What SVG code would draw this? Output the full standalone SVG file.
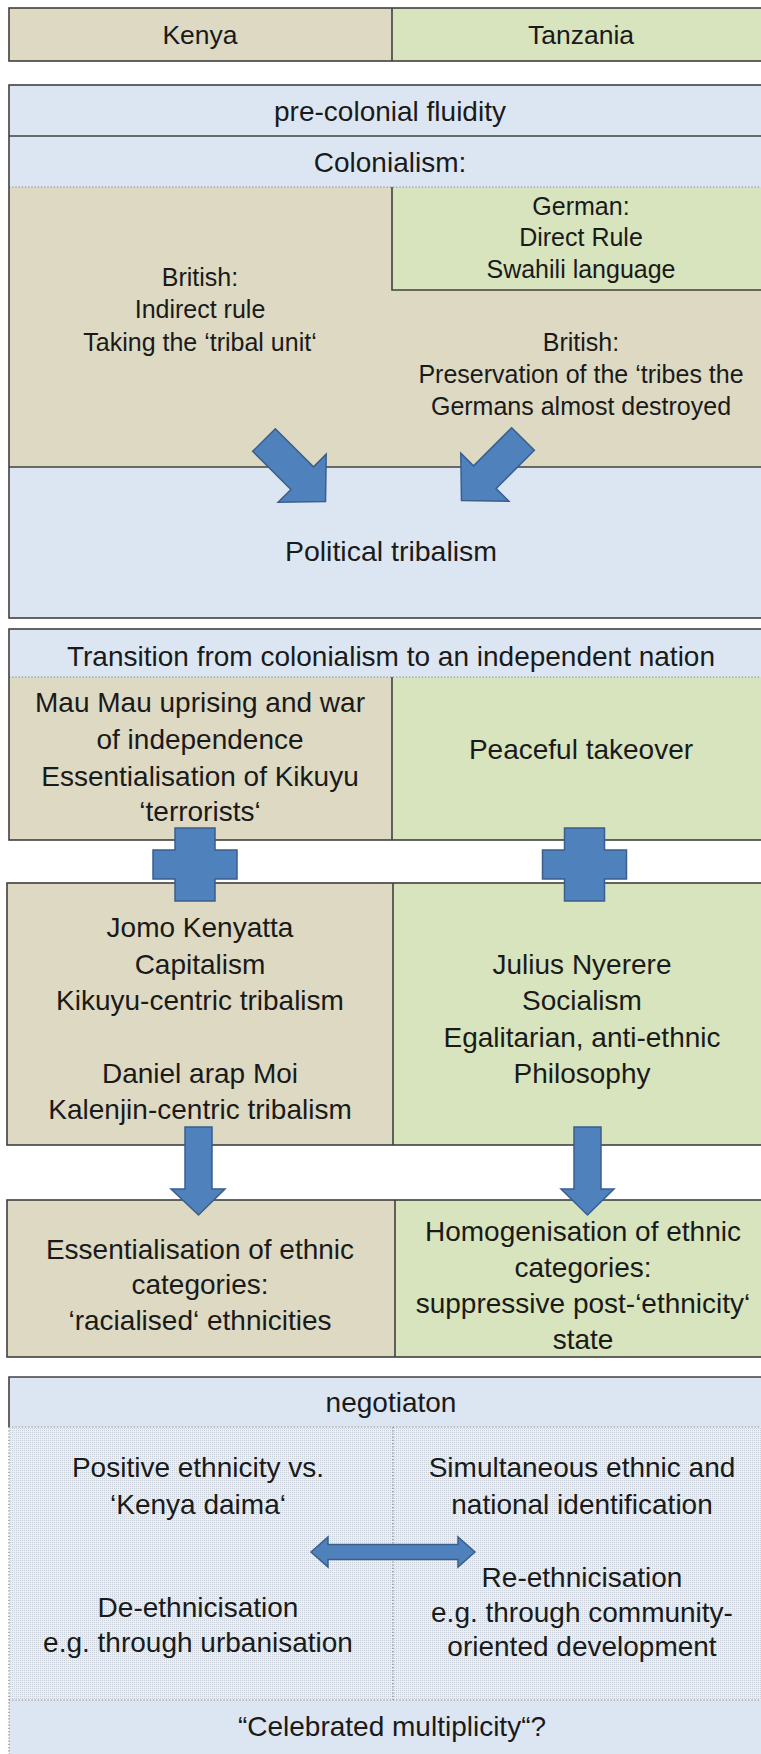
<svg xmlns="http://www.w3.org/2000/svg" width="761" height="1754" viewBox="0 0 761 1754">
<defs>
<style>
.t{font-family:"Liberation Sans",Arial,sans-serif;font-size:28px;fill:#1a1a1a;text-anchor:middle}
.s{font-size:25px}
.h{font-size:26.5px}
.tan{fill:#DDD9C3}
.grn{fill:#D7E4BD}
.blu{fill:#DCE6F2}
.bd{fill:none;stroke:#404040;stroke-width:1.6}
.ln{stroke:#404040;stroke-width:1.6}
.dot{stroke:#808080;stroke-width:1.2;stroke-dasharray:1.2 2}
.arr{fill:#4F81BD;stroke:#3A5F8C;stroke-width:1.5;stroke-linejoin:miter}
</style>
<pattern id="dots" width="2" height="2" patternUnits="userSpaceOnUse"><rect width="2" height="2" fill="#EBEFF4"/><rect width="1" height="1" fill="#C9D0D9"/></pattern>
</defs>
<rect width="761" height="1754" fill="#ffffff"/>

<g id="header">
<rect class="tan" x="9" y="8" width="383" height="53"/>
<rect class="grn" x="392" y="8" width="380" height="53"/>
<rect class="bd" x="9" y="8" width="763" height="53"/>
<line class="ln" x1="392" y1="8" x2="392" y2="61"/>
<text class="t h" x="200" y="44">Kenya</text>
<text class="t h" x="581" y="44">Tanzania</text>
</g>

<g id="colonial">
<rect class="blu" x="9" y="85" width="763" height="533"/>
<rect class="tan" x="9" y="187" width="763" height="280"/>
<rect class="grn" x="392" y="187" width="380" height="103"/>
<path class="ln" fill="none" d="M392,187 V290 H772"/>
<line class="ln" x1="9" y1="136" x2="772" y2="136"/>
<line class="dot" x1="9" y1="187" x2="772" y2="187"/>
<line class="ln" x1="9" y1="467" x2="772" y2="467"/>
<rect class="bd" x="9" y="85" width="763" height="533"/>
<text class="t" x="390" y="121">pre-colonial fluidity</text>
<text class="t" x="390" y="172">Colonialism:</text>
<text class="t s" x="581" y="215">German:</text>
<text class="t s" x="581" y="246">Direct Rule</text>
<text class="t s" x="581" y="278">Swahili language</text>
<text class="t s" x="200" y="286">British:</text>
<text class="t s" x="200" y="318">Indirect rule</text>
<text class="t s" x="200" y="351">Taking the ‘tribal unit‘</text>
<text class="t s" x="581" y="351">British:</text>
<text class="t s" x="581" y="383">Preservation of the ‘tribes the</text>
<text class="t s" x="581" y="415">Germans almost destroyed</text>
<text class="t" x="391" y="561" style="font-size:28.5px">Political tribalism</text>
</g>

<g id="transition">
<rect class="blu" x="9" y="629" width="763" height="48"/>
<rect class="tan" x="9" y="677" width="383" height="163"/>
<rect class="grn" x="392" y="677" width="380" height="163"/>
<line class="dot" x1="9" y1="677" x2="772" y2="677"/>
<line class="ln" x1="392" y1="677" x2="392" y2="840"/>
<rect class="bd" x="9" y="629" width="763" height="211"/>
<text class="t" x="391" y="666">Transition from colonialism to an independent nation</text>
<text class="t" x="200" y="712">Mau Mau uprising and war</text>
<text class="t" x="200" y="749">of independence</text>
<text class="t" x="200" y="786">Essentialisation of Kikuyu</text>
<text class="t" x="200" y="821">‘terrorists‘</text>
<text class="t" x="581" y="759">Peaceful takeover</text>
</g>

<g id="leaders">
<rect class="tan" x="7" y="883" width="386" height="262"/>
<rect class="grn" x="393" y="883" width="379" height="262"/>
<line class="ln" x1="393" y1="883" x2="393" y2="1145"/>
<rect class="bd" x="7" y="883" width="765" height="262"/>
<text class="t" x="200" y="937">Jomo Kenyatta</text>
<text class="t" x="200" y="974">Capitalism</text>
<text class="t" x="200" y="1010">Kikuyu-centric tribalism</text>
<text class="t" x="200" y="1083">Daniel arap Moi</text>
<text class="t" x="200" y="1119">Kalenjin-centric tribalism</text>
<text class="t" x="582" y="974">Julius Nyerere</text>
<text class="t" x="582" y="1010">Socialism</text>
<text class="t" x="582" y="1047">Egalitarian, anti-ethnic</text>
<text class="t" x="582" y="1083">Philosophy</text>
</g>

<g id="outcomes">
<rect class="tan" x="7" y="1200" width="388" height="157"/>
<rect class="grn" x="395" y="1200" width="377" height="157"/>
<line class="ln" x1="395" y1="1200" x2="395" y2="1357"/>
<rect class="bd" x="7" y="1200" width="765" height="157"/>
<text class="t" x="200" y="1259">Essentialisation of ethnic</text>
<text class="t" x="200" y="1294">categories:</text>
<text class="t" x="200" y="1330">‘racialised‘ ethnicities</text>
<text class="t" x="583" y="1241">Homogenisation of ethnic</text>
<text class="t" x="583" y="1277">categories:</text>
<text class="t" x="583" y="1313">suppressive post-‘ethnicity‘</text>
<text class="t" x="583" y="1349">state</text>
</g>

<g id="negotiation">
<rect class="blu" x="9" y="1377" width="763" height="50"/>
<rect fill="url(#dots)" x="9" y="1427" width="763" height="273"/>
<rect class="blu" x="9" y="1700" width="763" height="60"/>
<path class="ln" fill="none" d="M9,1427 V1377 H772"/>
<line class="dot" x1="9" y1="1427" x2="772" y2="1427"/>
<line class="dot" x1="9" y1="1700" x2="772" y2="1700"/>
<line class="dot" x1="9" y1="1427" x2="9" y2="1754"/>
<line class="dot" x1="393" y1="1427" x2="393" y2="1700"/>
<text class="t" x="391" y="1412">negotiaton</text>
<text class="t" x="198" y="1477">Positive ethnicity vs.</text>
<text class="t" x="198" y="1514">‘Kenya daima‘</text>
<text class="t" x="198" y="1617">De-ethnicisation</text>
<text class="t" x="198" y="1652">e.g. through urbanisation</text>
<text class="t" x="582" y="1477">Simultaneous ethnic and</text>
<text class="t" x="582" y="1514">national identification</text>
<text class="t" x="582" y="1587">Re-ethnicisation</text>
<text class="t" x="582" y="1622">e.g. through community-</text>
<text class="t" x="582" y="1656">oriented development</text>
<text class="t" x="392" y="1736">“Celebrated multiplicity“?</text>
</g>

<g id="connectors">
<polygon class="arr" transform="translate(264,440) rotate(-45)" points="-16,0 16,0 16,54 34,54 0,87 -34,54 -16,54"/>
<polygon class="arr" transform="translate(523,439) rotate(45)" points="-16,0 16,0 16,54 34,54 0,87 -34,54 -16,54"/>
<path class="arr" d="M175,828 H215 V850 H237 V879 H215 V901 H175 V879 H153 V850 H175 Z"/>
<path class="arr" d="M564.5,828 H604.5 V850 H626.5 V879 H604.5 V901 H564.5 V879 H542.5 V850 H564.5 Z"/>
<polygon class="arr" points="185,1127 212,1127 212,1189 225,1189 198.5,1215 171,1189 185,1189"/>
<polygon class="arr" points="574,1127 601,1127 601,1189 614,1189 587.5,1215 561,1189 574,1189"/>
<path class="arr" d="M311,1552 L328,1537 V1544.5 H458 V1537 L475,1552 L458,1567 V1559.5 H328 V1567 Z"/>
</g>
</svg>
